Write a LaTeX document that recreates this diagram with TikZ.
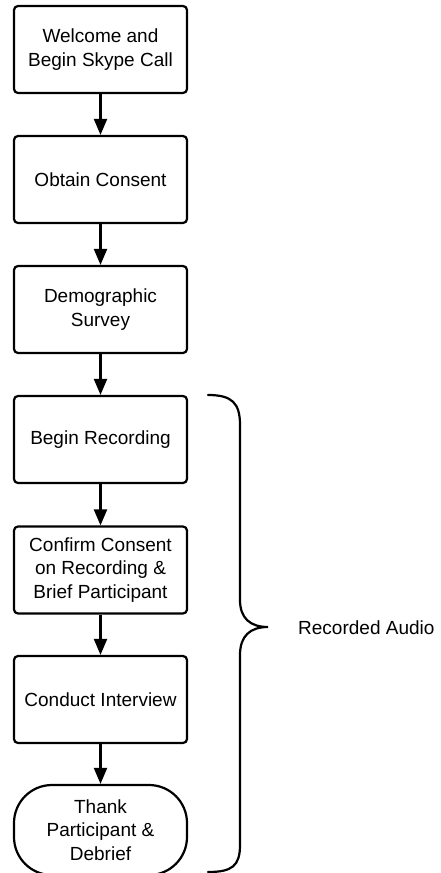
\documentclass[tikz,border=0pt]{standalone}
\usepackage{fontspec}
\setmainfont{Liberation Sans}
\usetikzlibrary{arrows.meta}
\begin{document}
\begin{tikzpicture}[x=1pt,y=-1pt,
  every node/.style={font=\fontsize{19}{23.5}\selectfont, align=center},
  stepbox/.style={draw, line width=2.2pt, rounded corners=4pt,
    minimum width=173pt, minimum height=87pt, inner sep=0pt},
  endbox/.style={draw, line width=2.2pt, rounded corners=38pt,
    minimum width=173pt, minimum height=90pt, inner sep=0pt},
  flow/.style={line width=2.2pt, -{Triangle[length=16pt,width=13pt]}},
  bracestyle/.style={line width=2.2pt, line cap=round}]
\useasboundingbox (0,0) rectangle (440,873);

\node[stepbox] (welcome) at (100.5,49.5) {Welcome and\\Begin Skype Call};
\node[stepbox] (consent) at (100.5,179.5) {Obtain Consent};
\node[stepbox] (survey)  at (100.5,309.5) {Demographic\\Survey};
\node[stepbox] (record)  at (100.5,439.5) {Begin Recording};
\node[stepbox] (brief)   at (100.5,570) {Confirm Consent\\on Recording \&\\Brief Participant};
\node[stepbox] (interview) at (100.5,699.5) {Conduct Interview};
\node[endbox]  (thank)   at (100.5,830) {Thank\\Participant \&\\Debrief};

\draw[flow] (welcome) -- (consent);
\draw[flow] (consent) -- (survey);
\draw[flow] (survey) -- (record);
\draw[flow] (record) -- (brief);
\draw[flow] (brief) -- (interview);
\draw[flow] (interview) -- (thank);

% curly brace spanning the recorded steps
\coordinate (btop) at (208,395);
\coordinate (btip) at (268,627);
\coordinate (bbot) at (208,872);
\draw[bracestyle] (btop) .. controls (232,395) and (240,403) .. (240,425)
  -- (240,600) .. controls (240,618) and (250,627) .. (btip)
  .. controls (250,627) and (240,636) .. (240,655)
  -- (240,845) .. controls (240,866) and (232,872) .. (bbot);
\node[anchor=west, inner sep=0pt] (audio) at (298,628) {Recorded Audio};
\end{tikzpicture}
\end{document}
